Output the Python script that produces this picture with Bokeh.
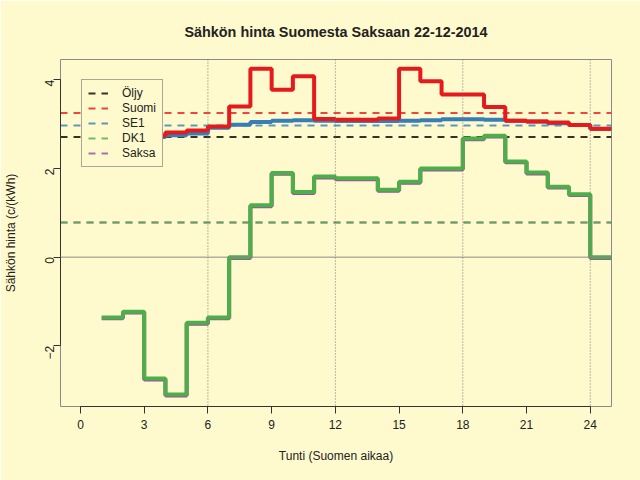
from bokeh.plotting import figure
from bokeh.models import Span, Legend, LegendItem, FixedTicker, Range1d
from bokeh.embed import file_html
from bokeh.resources import INLINE
import math

# ---- data ----
hours = list(range(1, 25))
suomi = [2.75, 2.72, 2.74, 2.81, 2.86, 2.95, 3.40, 4.25, 3.78, 4.08, 3.12, 3.10,
         3.10, 3.13, 4.25, 3.97, 3.67, 3.67, 3.39, 3.08, 3.06, 3.04, 2.98, 2.90]
se1 = [2.72, 2.70, 2.71, 2.75, 2.79, 2.92, 2.99, 3.05, 3.08, 3.09, 3.08, 3.07,
       3.07, 3.07, 3.08, 3.09, 3.11, 3.11, 3.10, 3.08, 3.06, 3.02, 2.98, 2.89]
dk1 = [-1.36, -1.23, -2.74, -3.10, -1.48, -1.36, 0.00, 1.17, 1.90, 1.47, 1.82, 1.78,
       1.78, 1.52, 1.70, 2.00, 2.00, 2.68, 2.74, 2.16, 1.91, 1.59, 1.42, 0.00]
saksa = [-1.38, -1.25, -2.76, -3.12, -1.50, -1.38, -0.02, 1.15, 1.88, 1.45, 1.80, 1.76,
         1.76, 1.50, 1.68, 1.98, 1.98, 2.66, 2.72, 2.14, 1.89, 1.57, 1.40, -0.02]
avg_names = ["Öljy", "Suomi", "SE1", "DK1", "Saksa"]
avg_values = [2.71, 3.25, 2.97, 0.78, 0.78]
colors = ["#000000", "#E41A1C", "#377EB8", "#4DAF4A", "#984EA3"]
x_ticks = [0, 3, 6, 9, 12, 15, 18, 21, 24]
y_ticks = [-2, 0, 2, 4]
vlines = [6, 12, 18, 24]
x_lim = (-0.94, 25.0)
y_lim = (-3.37, 4.46)

BG = "#FFFACD"
FONT = "Liberation Sans"
TXT = "#222222"

p = figure(frame_width=551, frame_height=347,
           min_border_left=59, min_border_right=30, min_border_top=59, min_border_bottom=74,
           x_range=Range1d(*x_lim), y_range=Range1d(*y_lim),
           output_backend="svg", toolbar_location=None,
           background_fill_color=BG, border_fill_color=BG,
           title="Sähkön hinta Suomesta Saksaan 22-12-2014")
p.grid.visible = False
p.outline_line_color = "#8a8a8a"
p.outline_line_width = 1

p.title.align = "center"
p.title.text_font = FONT
p.title.text_font_size = "14.4px"
p.title.text_font_style = "bold"
p.title.text_color = TXT
p.title.standoff = 39

for ax in (p.xaxis[0], p.yaxis[0]):
    ax.axis_line_color = "#333333"
    ax.major_tick_line_color = "#333333"
    ax.major_tick_out = 7
    ax.major_tick_in = 0
    ax.minor_tick_line_color = None
    ax.major_label_text_font = FONT
    ax.major_label_text_font_size = "12px"
    ax.major_label_text_color = TXT
    ax.axis_label_text_font = FONT
    ax.axis_label_text_font_size = "12px"
    ax.axis_label_text_font_style = "normal"
    ax.axis_label_text_color = TXT

p.xaxis.ticker = FixedTicker(ticks=x_ticks)
p.xaxis.bounds = (x_ticks[0], x_ticks[-1])
p.xaxis.axis_label = "Tunti (Suomen aikaa)"
p.xaxis.major_label_standoff = 6
p.xaxis.axis_label_standoff = 17

p.yaxis.ticker = FixedTicker(ticks=y_ticks)
p.yaxis.bounds = (y_ticks[0], y_ticks[-1])
p.yaxis.axis_label = "Sähkön hinta (c/(kWh)"
p.yaxis.major_label_orientation = math.pi / 2
p.yaxis.major_label_standoff = 4
p.yaxis.axis_label_standoff = 20

# reference lines
p.add_layout(Span(location=0, dimension="width", line_color="#8a8a8a", line_width=1))
for v in vlines:
    p.add_layout(Span(location=v, dimension="height", line_color="#777777",
                      line_width=1, line_dash="1 2"))

avg_renderers = {}
for i in [4, 3, 0, 2, 1]:
    r = p.line(x=list(x_lim), y=[avg_values[i], avg_values[i]], line_color=colors[i],
               line_width=2, line_dash="7 6", line_alpha=0.8)
    avg_renderers[i] = r

# step series
def steps(vals):
    return hours + [hours[-1] + 1], vals + [vals[-1]]

for vals, col in [(se1, colors[2]), (suomi, colors[1]), (saksa, colors[4]), (dk1, colors[3])]:
    xs, ys = steps(vals)
    p.step(xs, ys, mode="after", line_color=col, line_width=4)

items = [LegendItem(label=name, renderers=[avg_renderers[i]])
         for i, name in enumerate(avg_names)]

leg = Legend(items=items, location=(21, 239), margin=0, padding=6, spacing=1,
             glyph_width=20, glyph_height=14, label_height=14, label_standoff=14,
             label_text_font=FONT, label_text_font_size="12px", label_text_color=TXT,
             background_fill_color=BG, background_fill_alpha=1.0,
             border_line_color="#555555", border_line_width=1)
p.add_layout(leg, "center")

open("out.html", "w").write(file_html(p, INLINE))
